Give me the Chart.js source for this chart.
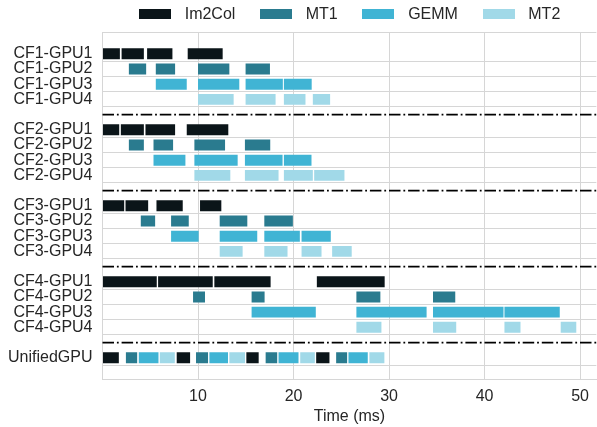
<!DOCTYPE html>
<html>
<head>
<meta charset="utf-8">
<script src="https://cdn.jsdelivr.net/npm/chart.js@4.4.0/dist/chart.umd.min.js"></script>
<style>
  body { margin: 0; background: #fff; }
  #wrap { position: relative; width: 597px; height: 427px; }
  #legend { position: absolute; left: 139px; top: 3px; height: 21px; display: flex; align-items: center;
            font: 16px 'Liberation Sans', Arial, sans-serif; color: #262626; }
  #legend .item { display: flex; align-items: center; margin-right: 24.7px; }
  #legend .box { width: 32px; height: 10px; margin-right: 13.7px; }
</style>
</head>
<body>
<div id="wrap">
  <canvas id="chart" width="597" height="427"></canvas>
  <div id="legend"></div>
</div>
<script>
// row labels, '' = separator slot
const rows = [
  'CF1-GPU1', 'CF1-GPU2', 'CF1-GPU3', 'CF1-GPU4', '',
  'CF2-GPU1', 'CF2-GPU2', 'CF2-GPU3', 'CF2-GPU4', '',
  'CF3-GPU1', 'CF3-GPU2', 'CF3-GPU3', 'CF3-GPU4', '',
  'CF4-GPU1', 'CF4-GPU2', 'CF4-GPU3', 'CF4-GPU4', '',
  'UnifiedGPU'
];
const separators = [4, 9, 14, 19];

const seriesNames = ['Im2Col', 'MT1', 'GEMM', 'MT2'];
const seriesColors = ['#0b1519', '#2a7b8f', '#40b4d4', '#a1d9e8'];

// [row, start ms, end ms]
const im2col = [
  ['CF1-GPU1', 0, 1.82], ['CF1-GPU1', 2.0, 4.33], ['CF1-GPU1', 4.67, 7.32], ['CF1-GPU1', 8.92, 12.58],
  ['CF2-GPU1', 0, 1.75], ['CF2-GPU1', 1.92, 4.33], ['CF2-GPU1', 4.5, 7.6], ['CF2-GPU1', 8.82, 13.17],
  ['CF3-GPU1', 0, 2.27], ['CF3-GPU1', 2.41, 4.78], ['CF3-GPU1', 5.65, 8.4], ['CF3-GPU1', 10.21, 12.44],
  ['CF4-GPU1', 0, 5.68], ['CF4-GPU1', 5.82, 11.54], ['CF4-GPU1', 11.71, 17.6], ['CF4-GPU1', 22.44, 29.54],
  ['UnifiedGPU', 0, 1.71], ['UnifiedGPU', 7.77, 9.17], ['UnifiedGPU', 15.06, 16.35], ['UnifiedGPU', 22.37, 23.76]
];
const mt1 = [
  ['CF1-GPU2', 2.76, 4.57], ['CF1-GPU2', 5.58, 7.6], ['CF1-GPU2', 10.0, 13.28], ['CF1-GPU2', 14.98, 17.53],
  ['CF2-GPU2', 2.76, 4.33], ['CF2-GPU2', 5.34, 7.39], ['CF2-GPU2', 9.62, 12.83], ['CF2-GPU2', 14.91, 17.56],
  ['CF3-GPU2', 4.01, 5.51], ['CF3-GPU2', 7.18, 9.03], ['CF3-GPU2', 12.27, 15.16], ['CF3-GPU2', 16.94, 19.93],
  ['CF4-GPU2', 9.48, 10.73], ['CF4-GPU2', 15.61, 16.97], ['CF4-GPU2', 26.58, 29.09], ['CF4-GPU2', 34.6, 36.93],
  ['UnifiedGPU', 2.45, 3.63], ['UnifiedGPU', 9.79, 11.05], ['UnifiedGPU', 17.08, 18.29], ['UnifiedGPU', 24.46, 25.61]
];
const gemm = [
  ['CF1-GPU3', 5.58, 8.82], ['CF1-GPU3', 10.0, 14.32], ['CF1-GPU3', 14.98, 18.88], ['CF1-GPU3', 18.99, 21.9],
  ['CF2-GPU3', 5.34, 8.68], ['CF2-GPU3', 9.62, 14.15], ['CF2-GPU3', 14.91, 18.85], ['CF2-GPU3', 18.99, 21.88],
  ['CF3-GPU3', 7.18, 10.07], ['CF3-GPU3', 12.27, 16.2], ['CF3-GPU3', 16.94, 20.66], ['CF3-GPU3', 20.84, 23.9],
  ['CF4-GPU3', 15.61, 22.33], ['CF4-GPU3', 26.58, 33.93], ['CF4-GPU3', 34.6, 41.98], ['CF4-GPU3', 42.08, 47.87],
  ['UnifiedGPU', 3.8, 5.86], ['UnifiedGPU', 11.19, 13.14], ['UnifiedGPU', 18.43, 20.52], ['UnifiedGPU', 25.75, 27.77]
];
const mt2 = [
  ['CF1-GPU4', 10.0, 13.73], ['CF1-GPU4', 14.98, 18.12], ['CF1-GPU4', 18.99, 21.25], ['CF1-GPU4', 22.02, 23.83],
  ['CF2-GPU4', 9.62, 13.38], ['CF2-GPU4', 14.91, 18.43], ['CF2-GPU4', 18.99, 22.02], ['CF2-GPU4', 22.16, 25.33],
  ['CF3-GPU4', 12.27, 14.67], ['CF3-GPU4', 16.94, 19.37], ['CF3-GPU4', 20.84, 22.93], ['CF3-GPU4', 24.04, 26.09],
  ['CF4-GPU4', 26.58, 29.2], ['CF4-GPU4', 34.6, 37.03], ['CF4-GPU4', 42.08, 43.76], ['CF4-GPU4', 47.97, 49.6],
  ['UnifiedGPU', 6.0, 7.57], ['UnifiedGPU', 13.28, 14.92], ['UnifiedGPU', 20.7, 22.23], ['UnifiedGPU', 27.94, 29.51]
];
const spans = [im2col, mt1, gemm, mt2];

const gridColor = '#d6d6d6';
const textColor = '#262626';

function toBars(list) {
  return list.map(([row, start, end]) => ({ y: rows.indexOf(row), x: [start, end] }));
}

// top spine + dash-dot group separators
const separatorLines = {
  id: 'separatorLines',
  beforeDatasetsDraw(chart) {
    const { ctx, chartArea, scales } = chart;
    ctx.save();
    ctx.strokeStyle = gridColor;
    ctx.lineWidth = 1;
    ctx.beginPath();
    ctx.moveTo(chartArea.left, chartArea.top + 0.5);
    ctx.lineTo(chartArea.right, chartArea.top + 0.5);
    ctx.stroke();
    ctx.strokeStyle = '#000';
    ctx.lineWidth = 1.8;
    ctx.setLineDash([11.5, 2.9, 1.8, 2.9]);
    separators.forEach(r => {
      const y = scales.y.getPixelForValue(r);
      ctx.beginPath();
      ctx.moveTo(chartArea.left, y);
      ctx.lineTo(chartArea.right, y);
      ctx.stroke();
    });
    ctx.restore();
  }
};

const htmlLegend = {
  id: 'htmlLegend',
  afterUpdate(chart) {
    const el = document.getElementById('legend');
    el.innerHTML = '';
    chart.data.datasets.forEach(ds => {
      const item = document.createElement('div');
      item.className = 'item';
      const box = document.createElement('span');
      box.className = 'box';
      box.style.background = ds.backgroundColor;
      const txt = document.createElement('span');
      txt.textContent = ds.label;
      item.appendChild(box);
      item.appendChild(txt);
      el.appendChild(item);
    });
  }
};

Chart.defaults.font.family = "'Liberation Sans', Arial, sans-serif";
Chart.defaults.font.size = 16;
Chart.defaults.color = textColor;

const ctx = document.getElementById('chart').getContext('2d');
new Chart(ctx, {
  type: 'bar',
  data: {
    datasets: seriesNames.map((name, i) => ({
      label: name,
      data: toBars(spans[i]),
      backgroundColor: seriesColors[i],
      grouped: false
    }))
  },
  options: {
    indexAxis: 'y',
    responsive: false,
    animation: false,
    layout: { padding: { top: 32, right: 0, bottom: 0, left: 0 } },
    plugins: { legend: { display: false }, tooltip: { enabled: false } },
    scales: {
      x: {
        type: 'linear',
        min: 0,
        max: 51.7,
        afterFit: s => { s.height = 48; },
        ticks: { stepSize: 10, includeBounds: false, padding: 8, callback: v => v === 0 ? '' : v },
        grid: { color: gridColor, drawTicks: false },
        border: { color: gridColor },
        title: { display: true, text: 'Time (ms)', padding: { top: 0, bottom: 1 } }
      },
      y: {
        type: 'linear',
        reverse: true,
        offset: false,
        min: -1.435,
        max: 21.4,
        afterFit: s => { s.width = 102.5; },
        ticks: { stepSize: 1, autoSkip: false, includeBounds: false, padding: 10, callback: v => rows[v] || '' },
        grid: { color: c => (c.tick && rows[c.tick.value]) ? gridColor : 'rgba(0,0,0,0)', drawTicks: false },
        border: { color: gridColor }
      }
    }
  },
  plugins: [separatorLines, htmlLegend]
});
</script>
</body>
</html>
